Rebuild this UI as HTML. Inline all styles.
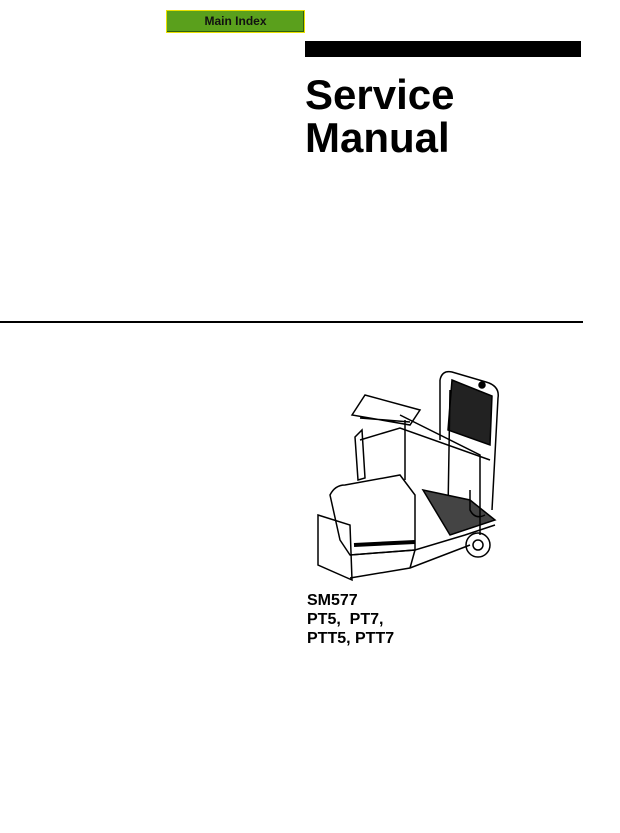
<!DOCTYPE html>
<html><head><style>
body{margin:0;width:620px;height:833px;background:#fff;position:relative;overflow:hidden;font-family:"Liberation Sans",sans-serif}
.btn{position:absolute;left:166px;top:10px;width:137px;height:21px;background:#5aa01c;border:1px solid #e8e000;box-shadow:inset -1px -1px 0 #2f6010;font-size:12px;font-weight:bold;text-align:center;line-height:21px;color:#111}
.bar{position:absolute;left:305px;top:41px;width:276px;height:16px;background:#000}
.t{position:absolute;left:305px;font-weight:bold;font-size:42px;line-height:42px;color:#000}
.hl{position:absolute;left:0;top:321px;width:583px;height:2px;background:#000}
.lb{position:absolute;left:307px;font-weight:bold;font-size:16px;line-height:18px}
</style></head><body>
<div class="btn">Main Index</div>
<div class="bar"></div>
<div class="t" style="top:74px">Service</div>
<div class="t" style="top:117px">Manual</div>
<div class="hl"></div>
<svg style="position:absolute;left:290px;top:360px" width="240" height="230" viewBox="0 0 240 230" fill="none" stroke="#000" stroke-width="1.5">
<path d="M150 20 Q152 10 162 12 L196 22 Q210 26 208 38 L202 150"/>
<path d="M162 20 L202 36 L200 85 L158 70 Z" fill="#222"/>
<path d="M150 20 L150 80 M160 30 L158 150"/>
<circle cx="192" cy="25" r="3" fill="#000"/>
<path d="M62 55 L75 35 L130 50 L120 65 Z M70 58 L120 62"/>
<path d="M65 77 L72 70 L75 118 L68 120 Z" fill="#fff"/>
<path d="M70 80 L110 68 L200 100"/>
<path d="M40 135 Q45 125 55 125 L110 115 L125 135 L125 190 L60 195 L50 180 Z"/>
<path d="M28 155 L60 165 L62 220 L28 205 Z"/>
<path d="M60 195 L125 190 L175 175 L205 165"/>
<path d="M64 185 L125 182" stroke-width="4"/>
<path d="M133 130 L180 140 L205 160 L160 175 Z" fill="#444"/>
<path d="M60 218 L120 208 L180 185 M120 208 L125 190"/>
<circle cx="188" cy="185" r="12"/><circle cx="188" cy="185" r="5"/>
<path d="M110 55 L190 95 L190 175 M115 60 L115 120"/>
<path d="M180 130 L180 150 Q185 160 195 155"/>
</svg>
<div class="lb" style="top:592px">SM577</div>
<div class="lb" style="top:611px">PT5,&nbsp; PT7,</div>
<div class="lb" style="top:630px">PTT5, PTT7</div>
</body></html>
